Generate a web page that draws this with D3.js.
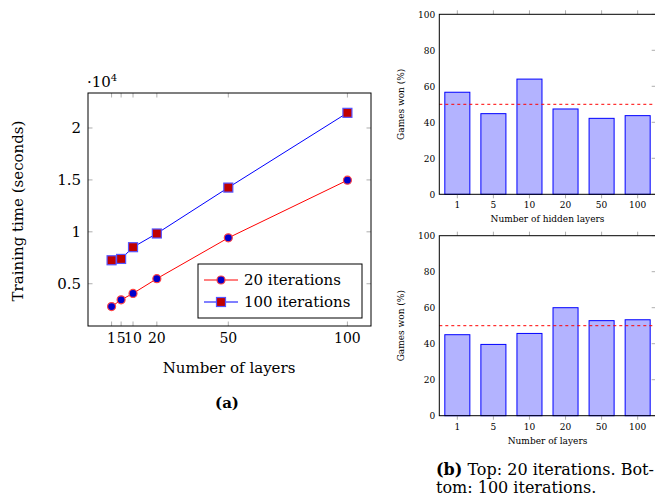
<!DOCTYPE html>
<html>
<head>
<meta charset="utf-8">
<script src="https://cdn.jsdelivr.net/npm/d3@7"></script>
<style>
  body { margin: 0; background: #fff; }
  svg text { font-family: "DejaVu Serif", serif; fill: #000; }
</style>
</head>
<body>
<svg id="chart" width="655" height="496"></svg>
<script>
// data
const layers = [1, 5, 10, 20, 50, 100];
const time20 = [2800, 3450, 4070, 5490, 9420, 14970];
const time100 = [7260, 7390, 8520, 9840, 14260, 21460];
const yTicksA = [0.5, 1, 1.5, 2];

const hiddenCats = ['1', '5', '10', '20', '50', '100'];
const won20 = [56.7, 44.8, 64.0, 47.4, 42.2, 43.7];
const won100 = [45.0, 39.6, 45.7, 60.0, 52.8, 53.3];
const yTicksB = [0, 20, 40, 60, 80, 100];
const baseline = 50;

const svg = d3.select('#chart');
const tickGray = '#999';

// ---------- (a) line chart ----------
const A = { left: 88, right: 371, top: 93, bottom: 326 };
const x = d3.scaleLinear().domain([-8.9, 109.9]).range([A.left, A.right]);
const y = d3.scaleLinear().domain([0.093, 2.337]).range([A.bottom, A.top]);
const ga = svg.append('g');

// inward ticks on all sides
const tl = 4.5;
layers.forEach(v => {
  ga.append('line').attr('x1', x(v)).attr('x2', x(v)).attr('y1', A.bottom).attr('y2', A.bottom - tl)
    .attr('stroke', tickGray).attr('stroke-width', 0.8);
  ga.append('line').attr('x1', x(v)).attr('x2', x(v)).attr('y1', A.top).attr('y2', A.top + tl)
    .attr('stroke', tickGray).attr('stroke-width', 0.8);
});
yTicksA.forEach(v => {
  ga.append('line').attr('x1', A.left).attr('x2', A.left + tl).attr('y1', y(v)).attr('y2', y(v))
    .attr('stroke', tickGray).attr('stroke-width', 0.8);
  ga.append('line').attr('x1', A.right).attr('x2', A.right - tl).attr('y1', y(v)).attr('y2', y(v))
    .attr('stroke', tickGray).attr('stroke-width', 0.8);
});

ga.append('rect').attr('x', A.left).attr('y', A.top)
  .attr('width', A.right - A.left).attr('height', A.bottom - A.top)
  .attr('fill', 'none').attr('stroke', '#000').attr('stroke-width', 1);

// tick labels (1, 5 and 10 sit close together, as in the original)
ga.selectAll('text.xl').data(layers).join('text')
  .attr('class', 'xl').attr('x', d => x(d)).attr('y', 343)
  .attr('text-anchor', 'middle').attr('font-size', 14).text(d => d);
ga.selectAll('text.yl').data(yTicksA).join('text')
  .attr('class', 'yl').attr('x', 81).attr('y', d => y(d) + 5)
  .attr('text-anchor', 'end').attr('font-size', 15).text(d => d);

const mult = ga.append('text').attr('x', 87).attr('y', 87).attr('font-size', 15);
mult.append('tspan').text('·10');
mult.append('tspan').attr('font-size', 10).attr('dy', -6).text('4');

ga.append('text').attr('x', 229).attr('y', 373).attr('text-anchor', 'middle')
  .attr('font-size', 15).text('Number of layers');
ga.append('text').attr('transform', 'translate(23,211) rotate(-90)').attr('text-anchor', 'middle')
  .attr('font-size', 15).text('Training time (seconds)');
ga.append('text').attr('x', 227).attr('y', 408).attr('text-anchor', 'middle')
  .attr('font-size', 15).attr('font-weight', 'bold').text('(a)');

const line = d3.line().x((d, i) => x(layers[i])).y(d => y(d / 1e4));
ga.append('path').datum(time20).attr('d', line).attr('fill', 'none').attr('stroke', '#f00').attr('stroke-width', 1);
ga.append('path').datum(time100).attr('d', line).attr('fill', 'none').attr('stroke', '#00f').attr('stroke-width', 1);

function circleMark(g, cx, cy) {
  g.append('circle').attr('cx', cx).attr('cy', cy).attr('r', 4)
    .attr('fill', '#0000cc').attr('stroke', '#f44').attr('stroke-width', 1.2);
}
function squareMark(g, cx, cy) {
  g.append('rect').attr('x', cx - 4.5).attr('y', cy - 4.5).attr('width', 9).attr('height', 9)
    .attr('fill', '#c00000').attr('stroke', '#55f').attr('stroke-width', 1.2);
}
time20.forEach((v, i) => circleMark(ga, x(layers[i]), y(v / 1e4)));
time100.forEach((v, i) => squareMark(ga, x(layers[i]), y(v / 1e4)));

// legend
const lg = ga.append('g');
lg.append('rect').attr('x', 198).attr('y', 264).attr('width', 164).attr('height', 54)
  .attr('fill', '#fff').attr('stroke', '#000').attr('stroke-width', 1);
[['20 iterations', '#f00', circleMark, 280], ['100 iterations', '#00f', squareMark, 302]].forEach(([lab, col, mk, cy]) => {
  lg.append('line').attr('x1', 204).attr('x2', 238).attr('y1', cy).attr('y2', cy).attr('stroke', col).attr('stroke-width', 1);
  mk(lg, 221, cy);
  lg.append('text').attr('x', 244).attr('y', cy + 5).attr('font-size', 15).text(lab);
});

// ---------- (b) bar charts ----------
function barPanel(top, bottom, values, xTitle) {
  const L = 439.3, R = 655.7;
  const g = svg.append('g');
  const xb = d3.scaleBand().domain(hiddenCats).range([L, R]).paddingInner(0.306).paddingOuter(0.153);
  const yb = d3.scaleLinear().domain([0, 100]).range([bottom, top]);

  g.selectAll('rect.bar').data(values).join('rect').attr('class', 'bar')
    .attr('x', (d, i) => xb(hiddenCats[i])).attr('width', xb.bandwidth())
    .attr('y', d => yb(d)).attr('height', d => yb(0) - yb(d))
    .attr('fill', '#b3b3ff').attr('stroke', '#0000ff').attr('stroke-width', 1);

  hiddenCats.forEach(c => {
    const cx = xb(c) + xb.bandwidth() / 2;
    g.append('line').attr('x1', cx).attr('x2', cx).attr('y1', bottom).attr('y2', bottom + 4).attr('stroke', tickGray).attr('stroke-width', 0.8);
    g.append('line').attr('x1', cx).attr('x2', cx).attr('y1', top).attr('y2', top - 4).attr('stroke', tickGray).attr('stroke-width', 0.8);
  });
  yTicksB.forEach(v => {
    g.append('line').attr('x1', R).attr('x2', R - 4).attr('y1', yb(v)).attr('y2', yb(v)).attr('stroke', tickGray).attr('stroke-width', 0.8);
  });

  g.append('line').attr('x1', L).attr('x2', R).attr('y1', yb(baseline)).attr('y2', yb(baseline))
    .attr('stroke', '#f00').attr('stroke-width', 1).attr('stroke-dasharray', '3,3');

  g.append('rect').attr('x', L).attr('y', top).attr('width', R - L).attr('height', bottom - top)
    .attr('fill', 'none').attr('stroke', '#000').attr('stroke-width', 1);

  g.selectAll('text.xt').data(hiddenCats).join('text').attr('class', 'xt')
    .attr('x', d => xb(d) + xb.bandwidth() / 2).attr('y', bottom + 14)
    .attr('text-anchor', 'middle').attr('font-size', 9).text(d => d);
  g.selectAll('text.yt').data(yTicksB).join('text').attr('class', 'yt')
    .attr('x', L - 4).attr('y', d => yb(d) + 3.5)
    .attr('text-anchor', 'end').attr('font-size', 9).text(d => d);
  g.append('text').attr('x', (L + R) / 2).attr('y', bottom + 28).attr('text-anchor', 'middle')
    .attr('font-size', 9).text(xTitle);
  g.append('text').attr('transform', `translate(404,${(top + bottom) / 2}) rotate(-90)`)
    .attr('text-anchor', 'middle').attr('font-size', 9).text('Games won (%)');
}
barPanel(14.3, 194.3, won20, 'Number of hidden layers');
barPanel(235.7, 415.7, won100, 'Number of layers');

svg.append('text').attr('x', 436).attr('y', 475).attr('font-size', 16)
  .call(t => {
    t.append('tspan').attr('font-weight', 'bold').text('(b)');
    t.append('tspan').text(' Top: 20 iterations. Bot-');
  });
svg.append('text').attr('x', 436).attr('y', 493).attr('font-size', 16).text('tom: 100 iterations.');
</script>
</body>
</html>
